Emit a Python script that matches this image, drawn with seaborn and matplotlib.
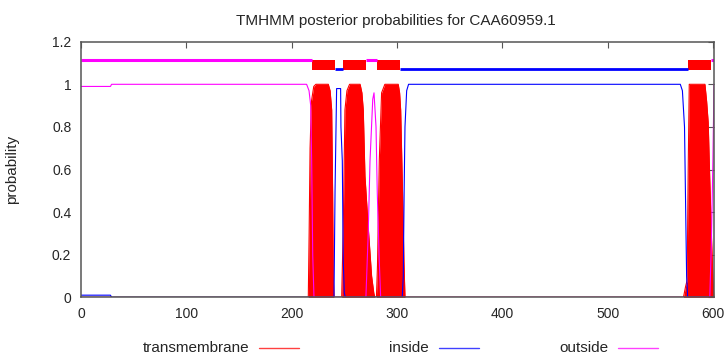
import matplotlib
matplotlib.use("Agg")
import matplotlib.pyplot as plt
from matplotlib.lines import Line2D
import seaborn as sns
import pandas as pd

title = "TMHMM posterior probabilities for CAA60959.1"
seq_len = 601

# posterior probabilities (residue position, probability)
tm_x = [0, 215.8, 216.6, 217.5, 218.8, 221, 223, 234.8, 236.5, 238, 238.9, 239.5, 240.2,
        247.5, 249, 250.6, 252.5, 255, 265, 266.7, 268, 269.6, 272.7, 275.9, 278, 279,
        280.5, 281.5, 283.2, 285.4, 288.5, 301.2, 302.5, 303.5, 305.3, 306.6, 307.6,
        572, 574, 575.5, 576.5, 577.5, 592.4, 594, 595.5, 597, 598.7, 600, 601]
tm_y = [0, 0, 0.3, 0.7, 0.92, 0.99, 1, 1, 0.97, 0.88, 0.49, 0.1, 0,
        0, 0.33, 0.88, 0.97, 1, 1, 0.96, 0.88, 0.57, 0.33, 0.1, 0.02, 0,
        0, 0.15, 0.64, 0.96, 1, 1, 0.96, 0.88, 0.49, 0.17, 0,
        0, 0.05, 0.08, 0.6, 1, 1, 0.92, 0.82, 0.55, 0.27, 0.08, 0]

inside_x = [0, 28, 29, 240.2, 241.2, 242.7, 246.5, 246.8, 248.1, 249, 250, 251,
            305, 306, 306.8, 307.6, 309.2, 311, 569, 571, 573, 574, 575, 576, 601]
inside_y = [0.01, 0.01, 0, 0, 0.5, 0.98, 0.98, 0.8, 0.64, 0.17, 0.02, 0,
            0, 0.1, 0.5, 0.8, 0.97, 1, 1, 0.97, 0.8, 0.45, 0.1, 0, 0]

outside_x = [0, 28, 29, 214.2, 216.5, 218.1, 219, 220, 221.2, 270.5, 272.7, 274.4,
             277, 278.2, 280.1, 281.3, 283.2, 284.5, 597, 598.5, 600, 601]
outside_y = [0.99, 0.99, 1, 1, 0.97, 0.9, 0.64, 0.2, 0, 0, 0.3, 0.64,
             0.93, 0.96, 0.8, 0.49, 0.17, 0, 0, 0.25, 0.65, 1.0]

# predicted topology
outside_seg = [(0, 219), (270.5, 280.7), (598.6, 601)]
inside_seg = [(241.1, 248.4), (302.8, 576)]
tm_seg = [(219, 241.1), (248.4, 270.5), (280.7, 302.8), (576, 598.6)]

xticks = [0, 100, 200, 300, 400, 500, 600]
yticks = [0, 0.2, 0.4, 0.6, 0.8, 1, 1.2]
ytick_labels = ["0", "0.2", "0.4", "0.6", "0.8", "1", "1.2"]

legend_labels = ["transmembrane", "inside", "outside"]
RED, BLUE, MAGENTA = "#ff0000", "#0000ff", "#ff00ff"
legend_colors = [RED, BLUE, MAGENTA]

sns.set_style("white")
plt.rcParams["font.family"] = ["Liberation Sans", "DejaVu Sans"]
plt.rcParams["font.size"] = 11

W, H = 728, 354
fig = plt.figure(figsize=(W / 100, H / 100), dpi=100)
ax = fig.add_axes([81 / W, 1 - 297.3 / H, 633 / W, 255.6 / H])

tm_df = pd.DataFrame({"pos": tm_x, "p": tm_y})
ax.fill_between(tm_df["pos"], 0, tm_df["p"], color=RED, lw=0)
sns.lineplot(data=tm_df, x="pos", y="p", color=RED, lw=0.8, ax=ax)

# topology bar on top
ax.broken_barh([(a, b - a) for a, b in tm_seg], (1.066, 0.048), color=RED, lw=0)
for a, b in outside_seg:
    ax.plot([a, b], [1.112, 1.112], color=MAGENTA, lw=2.2, solid_capstyle="butt")
for a, b in inside_seg:
    ax.plot([a, b], [1.071, 1.071], color=BLUE, lw=2.0, solid_capstyle="butt")

sns.lineplot(x=inside_x, y=inside_y, color=BLUE, lw=0.8, ax=ax)
sns.lineplot(x=outside_x, y=outside_y, color=MAGENTA, lw=0.8, ax=ax)

ax.set_xlim(0, seq_len)
ax.set_ylim(0, 1.2)
ax.set_xticks(xticks)
ax.set_yticks(yticks)
ax.set_yticklabels(ytick_labels)
ax.set_xlabel("")
ax.set_ylabel("probability", fontsize=11)
ax.yaxis.set_label_coords(-0.0985, 0.5)
ax.tick_params(direction="in", length=4, width=0.8, color="#555555",
               top=True, right=True, labelsize=10, pad=7)
for s in ax.spines.values():
    s.set_color("#555555")
    s.set_linewidth(1.1)

fig.text(395.8 / W, 1 - 25 / H, title, ha="center", va="baseline", fontsize=11)

# gnuplot-style key: right-justified text followed by a line sample
for i, (lab, col) in enumerate(zip(legend_labels, legend_colors)):
    x_txt = 249 + 179.5 * i
    fig.text(x_txt / W, 1 - 352 / H, lab, ha="right", va="baseline", fontsize=11)
    fig.add_artist(Line2D([(x_txt + 10) / W, (x_txt + 50) / W],
                          [1 - 348.3 / H, 1 - 348.3 / H], color=col, lw=1.0,
                          alpha=0.75, transform=fig.transFigure))

fig.savefig("out.png", dpi=100)
